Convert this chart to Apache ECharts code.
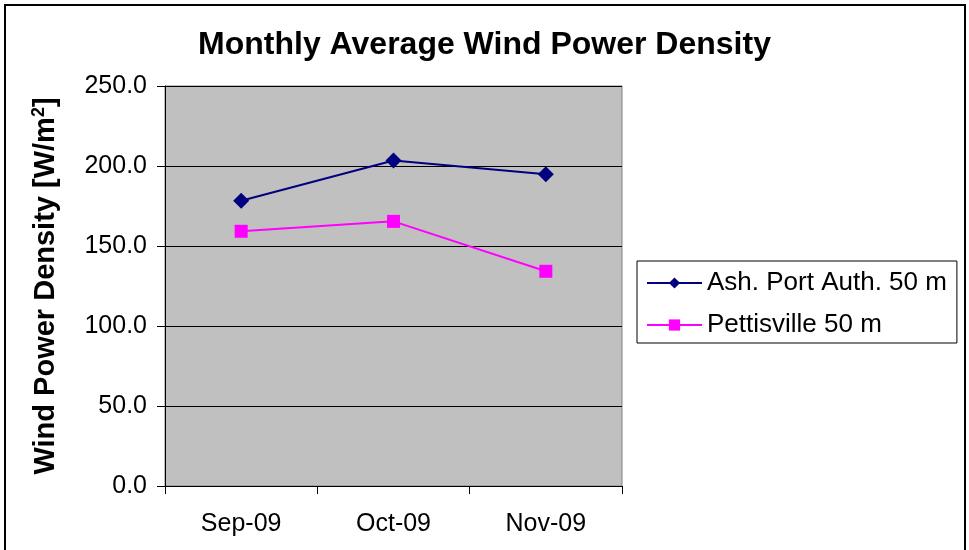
<!DOCTYPE html>
<html>
<head>
<meta charset="utf-8">
<script src="https://cdn.jsdelivr.net/npm/echarts@6/dist/echarts.min.js"></script>
<style>
html,body{margin:0;padding:0;background:#fff;}
#chart{width:969px;height:550px;}
</style>
</head>
<body>
<div id="chart"></div>
<script>
var categories = ['Sep-09', 'Oct-09', 'Nov-09'];
var ashPort = [178.3, 203.4, 194.8];
var pettisville = [159.2, 165.4, 134.2];
var seriesNames = ['Ash. Port Auth. 50 m', 'Pettisville 50 m'];
var titleText = 'Monthly Average Wind Power Density';

var chart = echarts.init(document.getElementById('chart'));
var FONT = 'Liberation Sans, Arial, sans-serif';
chart.setOption({
  animation: false,
  backgroundColor: '#fff',
  title: {
    text: titleText,
    left: 'center',
    top: 24,
    textStyle: { fontFamily: FONT, fontSize: 32, fontWeight: 'bold', color: '#000' }
  },
  graphic: [{
    type: 'rect', z: 100,
    shape: { x: 5, y: 5, width: 960, height: 550 },
    style: { fill: 'none', stroke: '#000', lineWidth: 2 }
  }],
  legend: {
    orient: 'vertical',
    left: 637, top: 261,
    padding: [9, 10, 5, 9],
    itemGap: 16,
    itemWidth: 55,
    itemHeight: 14,
    borderColor: '#000', borderWidth: 1,
    backgroundColor: '#fff',
    textStyle: { fontFamily: FONT, fontSize: 26, color: '#000' },
    data: seriesNames
  },
  grid: {
    left: 165, top: 86, right: 347, bottom: 64,
    show: true, backgroundColor: '#c0c0c0', borderColor: '#808080', borderWidth: 1
  },
  xAxis: {
    type: 'category',
    data: categories,
    boundaryGap: true,
    axisLine: { lineStyle: { color: '#000', width: 1 } },
    axisTick: { show: true, length: 8, lineStyle: { color: '#000' } },
    axisLabel: { margin: 26, fontFamily: FONT, fontSize: 25, color: '#000' },
    splitLine: { show: false }
  },
  yAxis: {
    type: 'value',
    min: 0, max: 250, interval: 50,
    name: 'Wind Power Density [W/m{sup|2}]',
    nameLocation: 'middle',
    nameRotate: 90,
    nameGap: 103,
    nameTextStyle: {
      fontFamily: FONT, fontSize: 29, fontWeight: 'bold', color: '#000',
      rich: { sup: { fontFamily: FONT, fontSize: 18, fontWeight: 'bold', color: '#000', padding: [0, 0, 14, 0] } }
    },
    axisLine: { show: true, lineStyle: { color: '#000', width: 1 } },
    axisTick: { show: true, length: 8, lineStyle: { color: '#000' } },
    axisLabel: { margin: 18, fontFamily: FONT, fontSize: 25, color: '#000', formatter: function (v) { return v.toFixed(1); } },
    splitLine: { show: true, lineStyle: { color: '#000', width: 1 } }
  },
  series: [{
    name: seriesNames[0],
    type: 'line',
    data: ashPort,
    symbol: 'diamond',
    symbolSize: 16,
    itemStyle: { color: '#000080' },
    lineStyle: { color: '#000080', width: 2 }
  }, {
    name: seriesNames[1],
    type: 'line',
    data: pettisville,
    symbol: 'rect',
    symbolSize: 13,
    itemStyle: { color: '#ff00ff' },
    lineStyle: { color: '#ff00ff', width: 2 }
  }]
});
</script>
</body>
</html>
